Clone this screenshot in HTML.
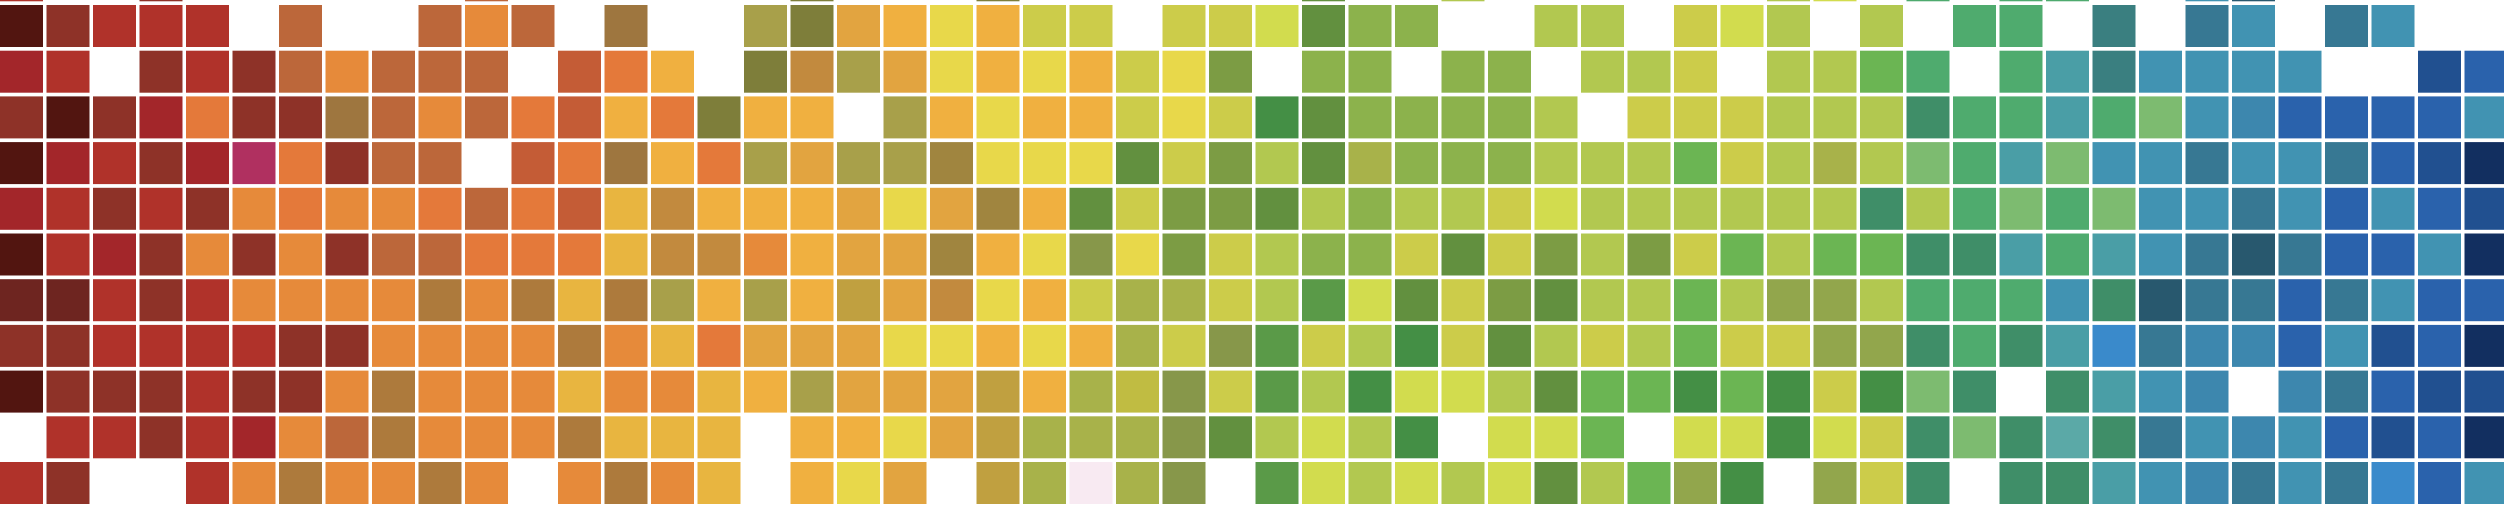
<!DOCTYPE html>
<html><head><meta charset="utf-8">
<style>html,body{margin:0;padding:0;background:#fff;overflow:hidden}svg{display:block}</style>
</head><body>
<svg id="chart" width="2504" height="506" viewBox="0 0 2504 506" xmlns="http://www.w3.org/2000/svg"></svg>
<script>
const palette = ["#521510","#6e2520","#8e3228","#a3262a","#b0322a","#b03060","#bc673a","#c45c36","#e4793a","#e68a3a",
"#9e763f","#ad7a3c","#c28a3e","#e2a440","#f0b040","#e8b540","#a8a04a","#7e7e3a","#a0853f","#e8d84a",
"#cccc4a","#d2dc4e","#b2c850","#a8b24a","#8cb24c","#7c9c44","#62903f","#5a9a48","#448f45","#6bb553",
"#4fab6e","#3f8e68","#7dbb70","#4a9ea6","#3a7f80","#4193b2","#377893","#3d87ae","#28586e","#2a62ac",
"#215090","#122f60","#3a8acb","#f8eaf2","#c0a040","#87974a","#92a64c","#c0bc42","#5ba9a7"];
const rowLabels = [-1,0,1,2,3,4,5,6,7,8,9,10];
const _ = null;
const rowM1 = [4,_,_,2,_,_,_,_,_,_,6,_,_,_,_,_,_,17,_,_,_,17,_,_,_,_,_,_,26,_,_,22,_,_,_,_,_,_,22,21,_,30,_,30,30,_,_,35,38,_,_,_,_,_];
const row0 = [0,2,4,4,4,_,6,_,_,6,9, 6,_,10,_,_,16,17,13,14,19,14, 20,20,_,20,20,21,26,24,24,_,_, 22,22,_,20,21,22,_,22,_,30,30, _,34,_,36,35,_,36,35,_,_];
const row1 = [3,4,_,2,4,2,6,9,6,6,6, _,7,8,14,_,17,12,16,13,19,14, 19,14,20,19,25,_,24,24,_,24,24, _,22,22,20,_,22,22,29,30,_,30, 33,34,35,35,35,35,_,_,40,39];
const row2 = [2,0,2,3,8,2,2,10,6,9,6, 8,7,14,8,17,14,14,_,16,14,19, 14,14,20,19,20,28,26,24,24,24,24, 22,_,20,20,20,22,22,22,31,30,30, 33,30,32,35,37,39,39,39,39,35];
const row3 = [0,3,4,2,3,5,8,2,6,6,_, 7,8,10,14,8,16,13,16,16,18,19, 19,19,26,20,25,22,26,23,24,24,24, 22,22,22,29,20,22,23,22,32,30,33, 32,35,35,36,35,35,36,39,40,41];
const row4 = [3,4,2,4,2,9,8,9,9,8,6, 8,7,15,12,14,14,14,13,19,13,18, 14,26,20,25,25,26,22,24,22,22,20, 21,22,22,22,22,22,22,31,22,30,32, 30,32,35,35,36,35,39,35,39,40];
const row5 = [0,4,3,2,9,2,9,2,6,6,8, 8,8,15,12,12,9,14,13,13,18,14, 19,45,19,25,20,22,24,24,20,26,20, 25,22,25,20,29,22,29,29,31,31,33, 30,33,35,36,38,36,39,39,35,41];
const row6 = [1,1,4,2,4,9,9,9,9,11,9, 11,15,11,16,14,16,14,44,13,12,19, 14,20,23,23,20,22,27,21,26,20,25, 26,22,22,29,22,46,46,22,30,30,30, 35,31,38,36,36,39,36,35,39,39];
const row7 = [2,2,4,4,4,4,2,2,9,9,9, 9,11,9,15,8,13,13,13,19,19,14, 19,14,23,20,45,27,20,22,28,20,26, 22,20,22,29,20,20,46,46,31,30,31, 33,42,36,37,37,39,35,40,39,41];
const row8 = [0,2,2,2,4,2,2,9,11,9,9, 9,15,9,9,15,14,16,13,13,13,44, 14,23,47,45,20,27,22,28,21,21,22, 26,29,29,28,29,28,20,28,32,31,_, 31,33,35,37,_,37,36,39,40,40];
const row9 = [_,4,4,2,4,3,9,6,11,9,9, 9,11,15,15,15,_,14,14,19,13,44, 23,23,23,45,26,22,21,22,28,_,21, 21,29,_,21,21,28,21,20,31,32,31, 48,31,36,35,37,35,39,40,39,41];
const row10 = [4,2,_,_,4,9,11,9,9,11,9, _,9,11,9,15,_,14,19,13,_,44, 23,43,23,45,_,27,21,22,21,22,21, 26,22,29,46,28,_,46,20,31,_,31, 31,33,35,37,36,35,36,42,39,35];
const matrix = [rowM1,row0,row1,row2,row3,row4,row5,row6,row7,row8,row9,row10];

const svg = document.getElementById('chart');
const NS = 'http://www.w3.org/2000/svg';
const xScale = c => c * 46.5;
const yScale = r => 5 + r * 45.7;
const colorScale = v => palette[v];
const g = document.createElementNS(NS, 'g');


svg.appendChild(g);
matrix.forEach((row, ri) => {
  row.forEach((v, ci) => {
    if (v === null || v === undefined) return;
    const r = document.createElementNS(NS, 'rect');
    r.setAttribute('x', xScale(ci) + 0.5);
    r.setAttribute('y', yScale(rowLabels[ri]) + 0.5);
    r.setAttribute('width', 42);
    r.setAttribute('height', 41);
    r.setAttribute('fill', colorScale(v));
    r.setAttribute('stroke', colorScale(v));
    r.setAttribute('stroke-width', 1);
    
    
    g.appendChild(r);
  });
});
</script>
</body></html>
